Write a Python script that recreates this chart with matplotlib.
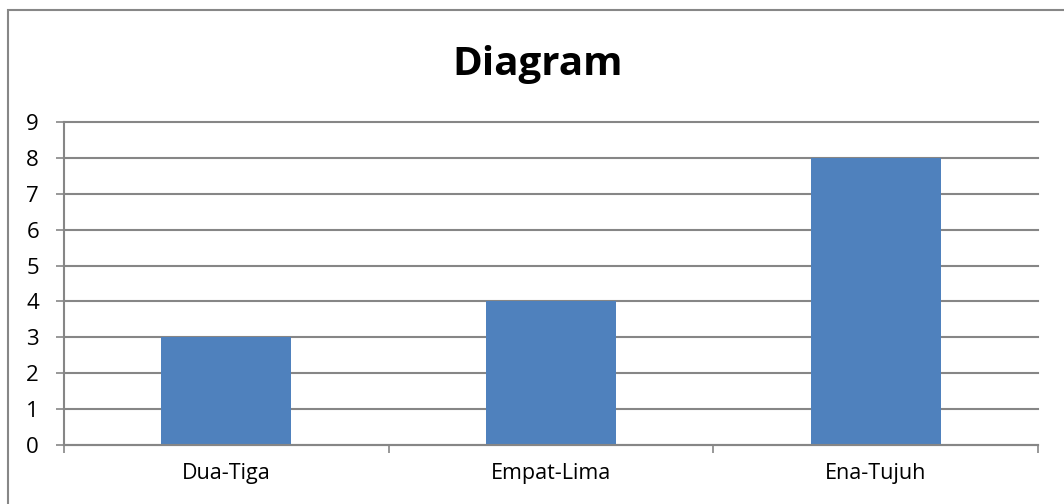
import matplotlib
matplotlib.use("Agg")
import matplotlib.pyplot as plt
from matplotlib.patches import Rectangle

categories = ["Dua-Tiga", "Empat-Lima", "Ena-Tujuh"]
values = [3, 4, 8]
y_ticks = list(range(0, 10))

W, H, DPI = 1064, 504, 100
fig = plt.figure(figsize=(W / DPI, H / DPI), dpi=DPI)
fig.patch.set_facecolor("white")

GRID = "#868686"
BAR = "#4F81BD"
FONT = "Open Sans"

# chart frame
fig.patches.append(Rectangle((8 / W, -0.1), 1.2, 1 - 10 / H + 0.1,
                             transform=fig.transFigure, fill=False,
                             edgecolor="#878787", linewidth=1.5))

ax = fig.add_axes([64 / W, (H - 445) / H, (1038 - 64) / W, (445 - 122) / H])
x = list(range(len(categories)))
ax.bar(x, values, width=0.4, color=BAR, zorder=3)

ax.set_xlim(-0.5, len(categories) - 0.5)
ax.set_ylim(0, 9)
ax.set_yticks(y_ticks)
ax.set_yticklabels([str(v) for v in y_ticks], fontsize=16, family=FONT)
ax.set_xticks(x)
ax.set_xticklabels(categories, fontsize=15.5, family=FONT)
ax.set_xticks([i - 0.5 for i in range(len(categories) + 1)], minor=True)

ax.tick_params(axis="x", which="major", length=0, pad=13)
ax.tick_params(axis="x", which="minor", length=6, width=1.2, color=GRID, direction="out")
ax.tick_params(axis="y", length=6, width=1.2, color=GRID, pad=12, direction="out")

ax.grid(axis="y", color=GRID, linewidth=1.5, zorder=0)
for line in ax.get_ygridlines():
    line.set_clip_on(False)
for s in ["top", "right"]:
    ax.spines[s].set_visible(False)
for s in ["left", "bottom"]:
    ax.spines[s].set_color(GRID)
    ax.spines[s].set_linewidth(1.5)
    ax.spines[s].set_zorder(4)

fig.text(538 / W, 1 - 75 / H, "Diagram", ha="center", va="baseline",
         fontsize=29, fontweight="bold", family=FONT)

fig.savefig("out.png", dpi=DPI)
